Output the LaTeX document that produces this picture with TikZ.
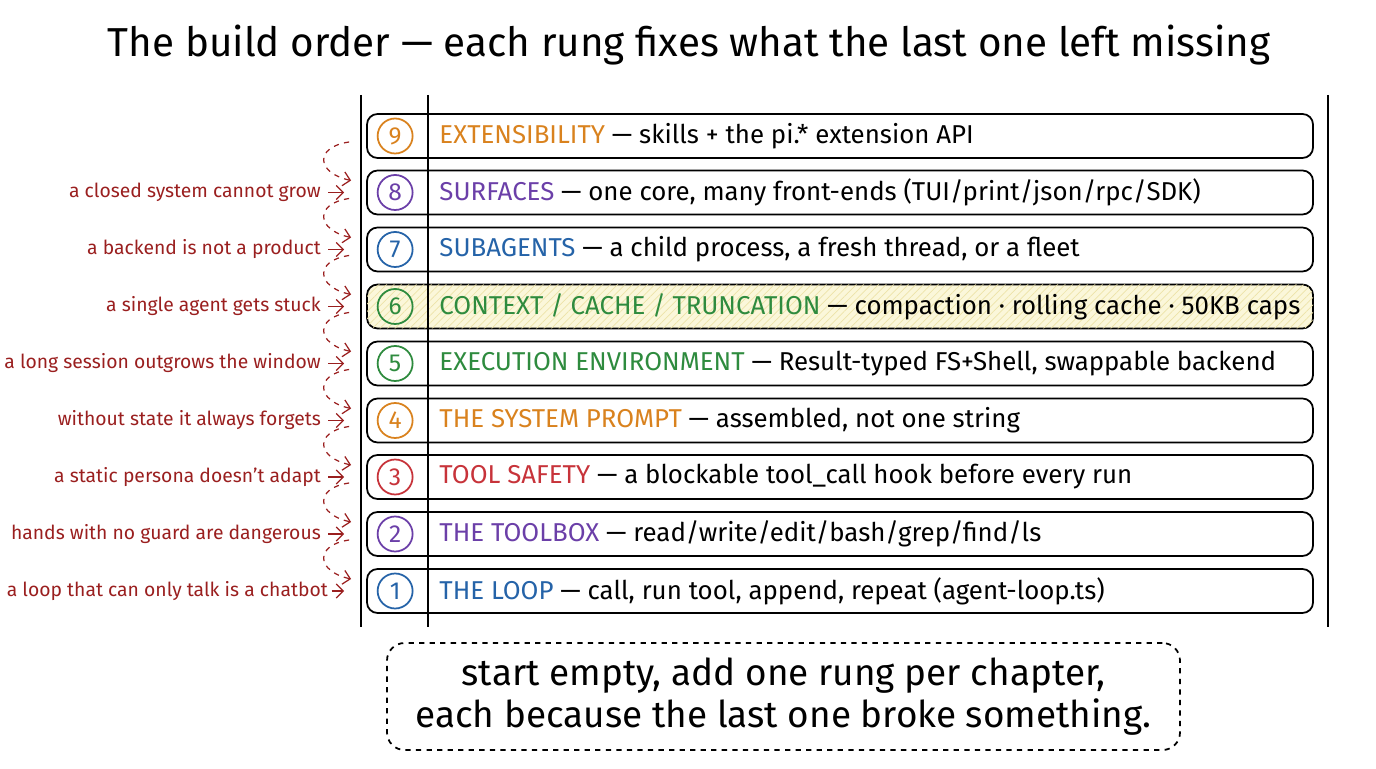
\documentclass[tikz,border=0pt]{standalone}
\usepackage{fontspec}
\setmainfont{Fira Sans}
\usepackage{tikz}
\usetikzlibrary{arrows.meta,calc,positioning,patterns.meta}

\definecolor{orng}{HTML}{D9821E}
\definecolor{purp}{HTML}{6B3FA8}
\definecolor{blu}{HTML}{2563A8}
\definecolor{grn}{HTML}{2E8B3E}
\definecolor{rd}{HTML}{C7333A}
\definecolor{note}{HTML}{9A1F1F}
\definecolor{hili}{HTML}{FBF7DA}
\definecolor{hatch}{HTML}{EDE3A8}

\tikzset{
  rung/.style={draw,line width=1pt,rounded corners=6pt,minimum width=18.92cm,minimum height=0.88cm},
  num/.style={circle,draw=#1,text=#1,line width=1pt,minimum size=0.7cm,inner sep=0pt,font=\fontsize{14}{16}\selectfont},
  rtext/.style={anchor=west,inner sep=0pt,font=\fontsize{14.7}{17}\selectfont},
  why/.style={anchor=east,inner sep=0pt,text=note,font=\fontsize{11}{13}\selectfont},
  whyarrow/.style={note,line width=0.7pt,-{Straight Barb[length=4pt]}},
  climb/.style={note,dashed,line width=0.7pt,-{Straight Barb[length=4pt]}},
  rail/.style={line width=1.2pt}
}

\begin{document}
\begin{tikzpicture}
\useasboundingbox (0,0) rectangle (27.52,15.36);

% Title
\node[font=\fontsize{23}{26}\selectfont] (title) at (13.78,14.46)
  {The build order — each rung fixes what the last one left missing};

% Rungs, bottom to top
\node[rung] (r1) at (16.8,3.54) {};
\node[rung] (r2) at (16.8,4.68) {};
\node[rung] (r3) at (16.8,5.82) {};
\node[rung] (r4) at (16.8,6.95) {};
\node[rung] (r5) at (16.8,8.09) {};
\node[rung,fill=hili,postaction={pattern={Lines[angle=45,distance=3pt,line width=0.4pt]},pattern color=hatch}] (r6) at (16.8,9.23) {};
\node[rung] (r7) at (16.8,10.37) {};
\node[rung] (r8) at (16.8,11.51) {};
\node[rung] (r9) at (16.8,12.64) {};

% Numbers
\node[num=blu]  (n1) at ([xshift=0.58cm]r1.west) {1};
\node[num=purp] (n2) at ([xshift=0.58cm]r2.west) {2};
\node[num=rd]   (n3) at ([xshift=0.58cm]r3.west) {3};
\node[num=orng] (n4) at ([xshift=0.58cm]r4.west) {4};
\node[num=grn]  (n5) at ([xshift=0.58cm]r5.west) {5};
\node[num=grn]  (n6) at ([xshift=0.58cm]r6.west) {6};
\node[num=blu]  (n7) at ([xshift=0.58cm]r7.west) {7};
\node[num=purp] (n8) at ([xshift=0.58cm]r8.west) {8};
\node[num=orng] (n9) at ([xshift=0.58cm]r9.west) {9};

% Rung texts
\node[rtext] (t1) at ([xshift=1.46cm]r1.west)
  {\textcolor{blu}{THE LOOP} — call, run tool, append, repeat (agent-loop.ts)};
\node[rtext] (t2) at ([xshift=1.46cm]r2.west)
  {\textcolor{purp}{THE TOOLBOX} — read/write/edit/bash/grep/find/ls};
\node[rtext] (t3) at ([xshift=1.46cm]r3.west)
  {\textcolor{rd}{TOOL SAFETY} — a blockable tool\_call hook before every run};
\node[rtext] (t4) at ([xshift=1.46cm]r4.west)
  {\textcolor{orng}{THE SYSTEM PROMPT} — assembled, not one string};
\node[rtext] (t5) at ([xshift=1.46cm]r5.west)
  {\textcolor{grn}{EXECUTION ENVIRONMENT} — Result-typed FS+Shell, swappable backend};
\node[rtext] (t6) at ([xshift=1.46cm]r6.west)
  {\textcolor{grn}{CONTEXT / CACHE / TRUNCATION} — compaction · rolling cache · 50KB caps};
\node[rtext] (t7) at ([xshift=1.46cm]r7.west)
  {\textcolor{blu}{SUBAGENTS} — a child process, a fresh thread, or a fleet};
\node[rtext] (t8) at ([xshift=1.46cm]r8.west)
  {\textcolor{purp}{SURFACES} — one core, many front-ends (TUI/print/json/rpc/SDK)};
\node[rtext] (t9) at ([xshift=1.46cm]r9.west)
  {\textcolor{orng}{EXTENSIBILITY} — skills + the pi.* extension API};

% Rails
\coordinate (lt) at (7.22,13.46);
\coordinate (lb) at (7.22,2.82);
\coordinate (mt) at (8.56,13.46);
\coordinate (mb) at (8.56,2.82);
\coordinate (rt) at (26.56,13.46);
\coordinate (rb) at (26.56,2.82);
\draw[rail] (lt) -- (lb);
\draw[rail] (mt) -- (mb);
\draw[rail] (rt) -- (rb);

% What each rung was missing
\node[why] (w1) at ([xshift=-0.76cm]r1.west) {a loop that can only talk is a chatbot};
\node[why] (w2) at ([xshift=-0.9cm]r2.west) {hands with no guard are dangerous};
\node[why] (w3) at ([xshift=-0.9cm]r3.west) {a static persona doesn't adapt};
\node[why] (w4) at ([xshift=-0.9cm]r4.west) {without state it always forgets};
\node[why] (w5) at ([xshift=-0.9cm]r5.west) {a long session outgrows the window};
\node[why] (w6) at ([xshift=-0.9cm]r6.west) {a single agent gets stuck};
\node[why] (w7) at ([xshift=-0.9cm]r7.west) {a backend is not a product};
\node[why] (w8) at ([xshift=-0.9cm]r8.west) {a closed system cannot grow};

\draw[whyarrow] ([xshift=2pt]w1.east) -- ([xshift=-0.44cm]r1.west);
\draw[whyarrow] ([xshift=4pt]w2.east) -- ([xshift=-0.44cm]r2.west);
\draw[whyarrow] ([xshift=4pt]w3.east) -- ([xshift=-0.44cm]r3.west);
\draw[whyarrow] ([xshift=4pt]w4.east) -- ([xshift=-0.44cm]r4.west);
\draw[whyarrow] ([xshift=4pt]w5.east) -- ([xshift=-0.44cm]r5.west);
\draw[whyarrow] ([xshift=4pt]w6.east) -- ([xshift=-0.44cm]r6.west);
\draw[whyarrow] ([xshift=4pt]w7.east) -- ([xshift=-0.44cm]r7.west);
\draw[whyarrow] ([xshift=4pt]w8.east) -- ([xshift=-0.44cm]r8.west);

% Dashed hops from rung to rung
\draw[climb] ([shift={(-0.34,-0.12)}]r9.west) .. controls +(-0.7,-0.1) and +(-0.7,0.15) .. ([shift={(-0.3,0.24)}]r8.west);
\draw[climb] ([shift={(-0.34,-0.12)}]r8.west) .. controls +(-0.7,-0.1) and +(-0.7,0.15) .. ([shift={(-0.3,0.24)}]r7.west);
\draw[climb] ([shift={(-0.34,-0.12)}]r7.west) .. controls +(-0.7,-0.1) and +(-0.7,0.15) .. ([shift={(-0.3,0.24)}]r6.west);
\draw[climb] ([shift={(-0.34,-0.12)}]r6.west) .. controls +(-0.7,-0.1) and +(-0.7,0.15) .. ([shift={(-0.3,0.24)}]r5.west);
\draw[climb] ([shift={(-0.34,-0.12)}]r5.west) .. controls +(-0.7,-0.1) and +(-0.7,0.15) .. ([shift={(-0.3,0.24)}]r4.west);
\draw[climb] ([shift={(-0.34,-0.12)}]r4.west) .. controls +(-0.7,-0.1) and +(-0.7,0.15) .. ([shift={(-0.3,0.24)}]r3.west);
\draw[climb] ([shift={(-0.34,-0.12)}]r3.west) .. controls +(-0.7,-0.1) and +(-0.7,0.15) .. ([shift={(-0.3,0.24)}]r2.west);
\draw[climb] ([shift={(-0.34,-0.12)}]r2.west) .. controls +(-0.7,-0.1) and +(-0.7,0.15) .. ([shift={(-0.3,0.24)}]r1.west);

% Closing note
\node[draw,dashed,line width=1pt,rounded corners=10pt,minimum width=15.86cm,minimum height=2.14cm,
  align=center,font=\fontsize{21}{24}\selectfont] (moral) at (15.67,1.43)
  {start empty, add one rung per chapter,\\each because the last one broke something.};
\end{tikzpicture}
\end{document}
